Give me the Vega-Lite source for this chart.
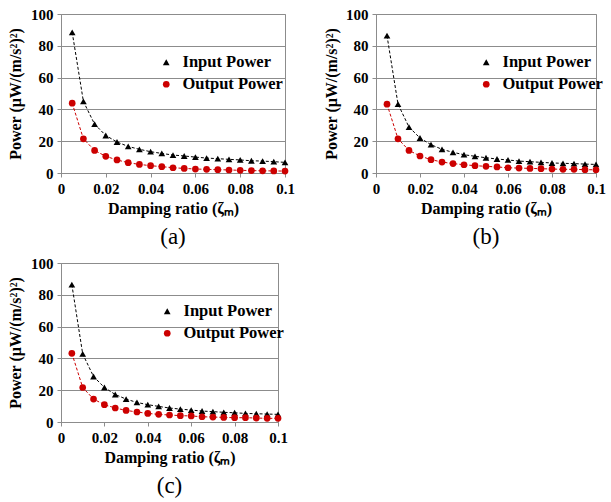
{
  "$schema": "https://vega.github.io/schema/vega-lite/v6.json",
  "padding": {"left": 6, "top": 6, "right": 0, "bottom": 5},
  "background": "white",
  "config": {
    "view": {"stroke": "#8c8c8c", "strokeWidth": 1},
    "font": "Times New Roman, Liberation Serif, serif",
    "axis": {
      "labelFont": "Times New Roman, Liberation Serif, serif", "labelFontWeight": "bold", "labelFontSize": 15, "labelColor": "black", "labelFlush": false,
      "titleFont": "Times New Roman, Liberation Serif, serif", "titleFontWeight": "bold", "titleFontSize": 16, "titleColor": "black",
      "domainColor": "#8c8c8c", "tickColor": "#8c8c8c", "tickSize": 4, "gridColor": "#8c8c8c", "gridOpacity": 1
    },
    "legend": {
      "labelFont": "Times New Roman, Liberation Serif, serif", "labelFontWeight": "bold", "labelFontSize": 16.5, "labelColor": "black",
      "symbolSize": 45, "rowPadding": 5, "symbolStrokeWidth": 0, "labelOffset": 8
    },
    "title": {"font": "Times New Roman, Liberation Serif, serif", "fontSize": 23, "fontWeight": "normal", "color": "black", "orient": "bottom", "frame": "group", "offset": 10}
  },
  "datasets": {
    "pw": [
      {"p":"a","s":"Input Power","z":0.005,"v":88.5},{"p":"a","s":"Input Power","z":0.01,"v":45},{"p":"a","s":"Input Power","z":0.015,"v":30.7},{"p":"a","s":"Input Power","z":0.02,"v":23.6},{"p":"a","s":"Input Power","z":0.025,"v":19.5},{"p":"a","s":"Input Power","z":0.03,"v":16.7},{"p":"a","s":"Input Power","z":0.035,"v":14.9},{"p":"a","s":"Input Power","z":0.04,"v":13.4},{"p":"a","s":"Input Power","z":0.045,"v":12.3},{"p":"a","s":"Input Power","z":0.05,"v":11.3},{"p":"a","s":"Input Power","z":0.055,"v":10.7},{"p":"a","s":"Input Power","z":0.06,"v":10},{"p":"a","s":"Input Power","z":0.065,"v":9.4},{"p":"a","s":"Input Power","z":0.07,"v":9},{"p":"a","s":"Input Power","z":0.075,"v":8.6},{"p":"a","s":"Input Power","z":0.08,"v":8.2},{"p":"a","s":"Input Power","z":0.085,"v":7.7},{"p":"a","s":"Input Power","z":0.09,"v":7.5},{"p":"a","s":"Input Power","z":0.095,"v":7.1},{"p":"a","s":"Input Power","z":0.1,"v":6.7},
      {"p":"a","s":"Output Power","z":0.005,"v":43.9},{"p":"a","s":"Output Power","z":0.01,"v":21.5},{"p":"a","s":"Output Power","z":0.015,"v":14.2},{"p":"a","s":"Output Power","z":0.02,"v":10.5},{"p":"a","s":"Output Power","z":0.025,"v":8.2},{"p":"a","s":"Output Power","z":0.03,"v":6.5},{"p":"a","s":"Output Power","z":0.035,"v":5.4},{"p":"a","s":"Output Power","z":0.04,"v":4.6},{"p":"a","s":"Output Power","z":0.045,"v":4},{"p":"a","s":"Output Power","z":0.05,"v":3.3},{"p":"a","s":"Output Power","z":0.055,"v":2.9},{"p":"a","s":"Output Power","z":0.06,"v":2.5},{"p":"a","s":"Output Power","z":0.065,"v":2.3},{"p":"a","s":"Output Power","z":0.07,"v":2.1},{"p":"a","s":"Output Power","z":0.075,"v":1.9},{"p":"a","s":"Output Power","z":0.08,"v":1.7},{"p":"a","s":"Output Power","z":0.085,"v":1.5},{"p":"a","s":"Output Power","z":0.09,"v":1.4},{"p":"a","s":"Output Power","z":0.095,"v":1.3},{"p":"a","s":"Output Power","z":0.1,"v":1.2},
      {"p":"b","s":"Input Power","z":0.005,"v":86.4},{"p":"b","s":"Input Power","z":0.01,"v":43.3},{"p":"b","s":"Input Power","z":0.015,"v":28.9},{"p":"b","s":"Input Power","z":0.02,"v":22},{"p":"b","s":"Input Power","z":0.025,"v":17.8},{"p":"b","s":"Input Power","z":0.03,"v":14.9},{"p":"b","s":"Input Power","z":0.035,"v":13},{"p":"b","s":"Input Power","z":0.04,"v":11.5},{"p":"b","s":"Input Power","z":0.045,"v":10.5},{"p":"b","s":"Input Power","z":0.05,"v":9.6},{"p":"b","s":"Input Power","z":0.055,"v":8.8},{"p":"b","s":"Input Power","z":0.06,"v":8.2},{"p":"b","s":"Input Power","z":0.065,"v":7.5},{"p":"b","s":"Input Power","z":0.07,"v":7.1},{"p":"b","s":"Input Power","z":0.075,"v":6.7},{"p":"b","s":"Input Power","z":0.08,"v":6.3},{"p":"b","s":"Input Power","z":0.085,"v":6.1},{"p":"b","s":"Input Power","z":0.09,"v":5.9},{"p":"b","s":"Input Power","z":0.095,"v":5.6},{"p":"b","s":"Input Power","z":0.1,"v":5.4},
      {"p":"b","s":"Output Power","z":0.005,"v":43.3},{"p":"b","s":"Output Power","z":0.01,"v":21.5},{"p":"b","s":"Output Power","z":0.015,"v":14.2},{"p":"b","s":"Output Power","z":0.02,"v":10.7},{"p":"b","s":"Output Power","z":0.025,"v":8.4},{"p":"b","s":"Output Power","z":0.03,"v":6.9},{"p":"b","s":"Output Power","z":0.035,"v":5.9},{"p":"b","s":"Output Power","z":0.04,"v":5.2},{"p":"b","s":"Output Power","z":0.045,"v":4.6},{"p":"b","s":"Output Power","z":0.05,"v":4.2},{"p":"b","s":"Output Power","z":0.055,"v":3.8},{"p":"b","s":"Output Power","z":0.06,"v":3.3},{"p":"b","s":"Output Power","z":0.065,"v":3.1},{"p":"b","s":"Output Power","z":0.07,"v":2.9},{"p":"b","s":"Output Power","z":0.075,"v":2.7},{"p":"b","s":"Output Power","z":0.08,"v":2.5},{"p":"b","s":"Output Power","z":0.085,"v":2.3},{"p":"b","s":"Output Power","z":0.09,"v":2.3},{"p":"b","s":"Output Power","z":0.095,"v":2.1},{"p":"b","s":"Output Power","z":0.1,"v":2},
      {"p":"c","s":"Input Power","z":0.005,"v":86.4},{"p":"c","s":"Input Power","z":0.01,"v":42.8},{"p":"c","s":"Input Power","z":0.015,"v":28.6},{"p":"c","s":"Input Power","z":0.02,"v":21.7},{"p":"c","s":"Input Power","z":0.025,"v":17.3},{"p":"c","s":"Input Power","z":0.03,"v":14.4},{"p":"c","s":"Input Power","z":0.035,"v":12.3},{"p":"c","s":"Input Power","z":0.04,"v":10.9},{"p":"c","s":"Input Power","z":0.045,"v":9.8},{"p":"c","s":"Input Power","z":0.05,"v":8.8},{"p":"c","s":"Input Power","z":0.055,"v":8.1},{"p":"c","s":"Input Power","z":0.06,"v":7.5},{"p":"c","s":"Input Power","z":0.065,"v":6.9},{"p":"c","s":"Input Power","z":0.07,"v":6.5},{"p":"c","s":"Input Power","z":0.075,"v":6.1},{"p":"c","s":"Input Power","z":0.08,"v":5.8},{"p":"c","s":"Input Power","z":0.085,"v":5.4},{"p":"c","s":"Input Power","z":0.09,"v":5.2},{"p":"c","s":"Input Power","z":0.095,"v":5},{"p":"c","s":"Input Power","z":0.1,"v":4.8},
      {"p":"c","s":"Output Power","z":0.005,"v":43.2},{"p":"c","s":"Output Power","z":0.01,"v":21.7},{"p":"c","s":"Output Power","z":0.015,"v":14.4},{"p":"c","s":"Output Power","z":0.02,"v":10.9},{"p":"c","s":"Output Power","z":0.025,"v":8.8},{"p":"c","s":"Output Power","z":0.03,"v":7.3},{"p":"c","s":"Output Power","z":0.035,"v":6.3},{"p":"c","s":"Output Power","z":0.04,"v":5.4},{"p":"c","s":"Output Power","z":0.045,"v":4.8},{"p":"c","s":"Output Power","z":0.05,"v":4.4},{"p":"c","s":"Output Power","z":0.055,"v":4},{"p":"c","s":"Output Power","z":0.06,"v":3.8},{"p":"c","s":"Output Power","z":0.065,"v":3.3},{"p":"c","s":"Output Power","z":0.07,"v":3.1},{"p":"c","s":"Output Power","z":0.075,"v":2.9},{"p":"c","s":"Output Power","z":0.08,"v":2.7},{"p":"c","s":"Output Power","z":0.085,"v":2.7},{"p":"c","s":"Output Power","z":0.09,"v":2.5},{"p":"c","s":"Output Power","z":0.095,"v":2.3},{"p":"c","s":"Output Power","z":0.1,"v":2.3}
    ]
  },
  "data": {"name": "pw"},
  "resolve": {"scale": {"color": "independent", "shape": "independent"}},
  "spacing": {"row": 5, "column": 27},
  "columns": 2,
  "concat": [
    {
      "width": 224, "height": 159,
      "title": {"text": "(a)"},
      "transform": [{"filter": "datum.p === 'a'"}],
      "encoding": {
        "x": {"field": "z", "type": "quantitative", "scale": {"domain": [0, 0.1], "nice": false}, "axis": {"values": [0, 0.02, 0.04, 0.06, 0.08, 0.1], "format": "~g", "grid": false, "title": "Damping ratio (ζₘ)", "labelPadding": 4, "titlePadding": 4}},
        "y": {"field": "v", "type": "quantitative", "scale": {"domain": [0, 100], "nice": false}, "axis": {"values": [0, 20, 40, 60, 80, 100], "grid": true, "title": "Power (μW/(m/s²)²)", "labelPadding": 4, "titlePadding": 7}},
        "color": {"field": "s", "type": "nominal", "scale": {"domain": ["Input Power", "Output Power"], "range": ["#000000", "#cc0000"]}, "legend": {"title": null, "orient": "none", "legendX": 97, "legendY": 40}}
      },
      "layer": [
        {"mark": {"type": "line", "strokeDash": [3, 2], "strokeWidth": 1}, "encoding": {"detail": {"field": "s"}}},
        {"mark": {"type": "point", "filled": true, "opacity": 1, "size": 45}, "encoding": {"shape": {"field": "s", "type": "nominal", "scale": {"domain": ["Input Power", "Output Power"], "range": ["triangle-up", "circle"]}, "legend": {"title": null, "orient": "none", "legendX": 97, "legendY": 40}}}}
      ]
    },
    {
      "width": 220, "height": 159,
      "title": {"text": "(b)"},
      "transform": [{"filter": "datum.p === 'b'"}],
      "encoding": {
        "x": {"field": "z", "type": "quantitative", "scale": {"domain": [0, 0.1], "nice": false}, "axis": {"values": [0, 0.02, 0.04, 0.06, 0.08, 0.1], "format": "~g", "grid": false, "title": "Damping ratio (ζₘ)", "labelPadding": 4, "titlePadding": 4}},
        "y": {"field": "v", "type": "quantitative", "scale": {"domain": [0, 100], "nice": false}, "axis": {"values": [0, 20, 40, 60, 80, 100], "grid": true, "title": "Power (μW/(m/s²)²)", "labelPadding": 4, "titlePadding": 6}},
        "color": {"field": "s", "type": "nominal", "scale": {"domain": ["Input Power", "Output Power"], "range": ["#000000", "#cc0000"]}, "legend": {"title": null, "orient": "none", "legendX": 102, "legendY": 40}}
      },
      "layer": [
        {"mark": {"type": "line", "strokeDash": [3, 2], "strokeWidth": 1}, "encoding": {"detail": {"field": "s"}}},
        {"mark": {"type": "point", "filled": true, "opacity": 1, "size": 45}, "encoding": {"shape": {"field": "s", "type": "nominal", "scale": {"domain": ["Input Power", "Output Power"], "range": ["triangle-up", "circle"]}, "legend": {"title": null, "orient": "none", "legendX": 102, "legendY": 40}}}}
      ]
    },
    {
      "width": 217, "height": 159,
      "title": {"text": "(c)"},
      "transform": [{"filter": "datum.p === 'c'"}],
      "encoding": {
        "x": {"field": "z", "type": "quantitative", "scale": {"domain": [0, 0.1], "nice": false}, "axis": {"values": [0, 0.02, 0.04, 0.06, 0.08, 0.1], "format": "~g", "grid": false, "title": "Damping ratio (ζₘ)", "labelPadding": 4, "titlePadding": 4}},
        "y": {"field": "v", "type": "quantitative", "scale": {"domain": [0, 100], "nice": false}, "axis": {"values": [0, 20, 40, 60, 80, 100], "grid": true, "title": "Power (μW/(m/s²)²)", "labelPadding": 4, "titlePadding": 7}},
        "color": {"field": "s", "type": "nominal", "scale": {"domain": ["Input Power", "Output Power"], "range": ["#000000", "#cc0000"]}, "legend": {"title": null, "orient": "none", "legendX": 98, "legendY": 40}}
      },
      "layer": [
        {"mark": {"type": "line", "strokeDash": [3, 2], "strokeWidth": 1}, "encoding": {"detail": {"field": "s"}}},
        {"mark": {"type": "point", "filled": true, "opacity": 1, "size": 45}, "encoding": {"shape": {"field": "s", "type": "nominal", "scale": {"domain": ["Input Power", "Output Power"], "range": ["triangle-up", "circle"]}, "legend": {"title": null, "orient": "none", "legendX": 98, "legendY": 40}}}}
      ]
    }
  ]
}
